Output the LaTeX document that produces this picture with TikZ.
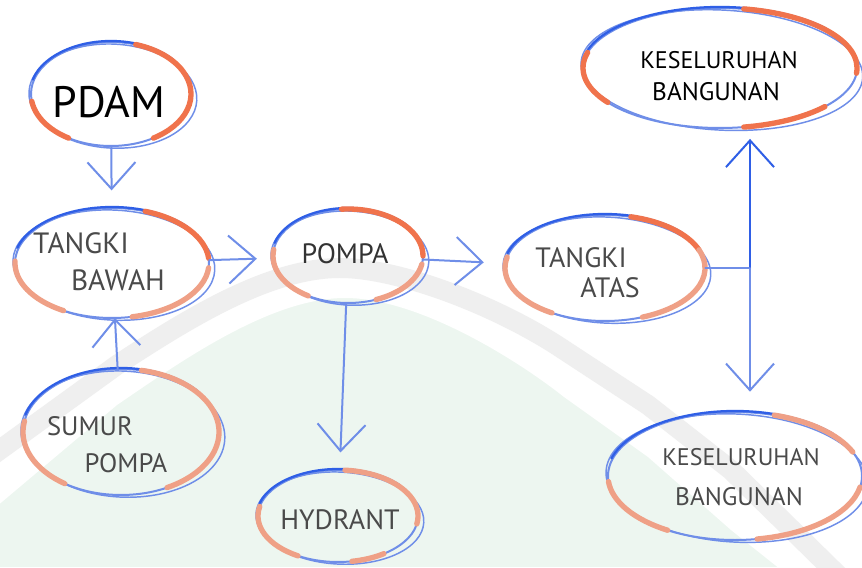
\documentclass[tikz,border=0pt]{standalone}
\usepackage{fontspec}
\usepackage{tikz}
\usetikzlibrary{arrows.meta,shapes.geometric}
\newfontfamily\handfont{PT Sans}
\definecolor{inkdark}{HTML}{2F5FE6}
\definecolor{inklight}{HTML}{6F8EE8}
\definecolor{hldark}{HTML}{F0734C}
\definecolor{hllight}{HTML}{EFA086}
\definecolor{textgrey}{HTML}{4A4A4A}
\definecolor{washgreen}{HTML}{EDF6F0}
\definecolor{washgrey}{HTML}{EFEFEF}

% a sketched ring round node #1 with radii #2 x #3 (in px)
\newcommand\ring[3]{%
  \draw[inklight, line width=1.5pt] (#1) ellipse[x radius=#2, y radius=#3];
  \draw[inklight, line width=1.1pt, rotate around={-3:(#1)}]
    ([shift={(2,-2)}]#1) ellipse[x radius={#2+4}, y radius=#3];
  \draw[inkdark, line width=1.7pt] ([shift={(0,1)}]#1) ++(165:{#2+1} and {#3})
    arc[start angle=165, end angle=40, x radius={#2+1}, y radius=#3];
}
% a marker stroke along the ring, from angle #5 to #6
\newcommand\hlarc[6][hldark]{%
  \draw[#1, line width=4pt] ([shift={(#5:#3 and #4)}]#2)
    arc[start angle=#5, end angle=#6, x radius=#3, y radius=#4];
}

\begin{document}
\begin{tikzpicture}[x=0.75pt, y=0.75pt, line cap=round,
  blob/.style 2 args={ellipse, minimum width=#1*1.5pt, minimum height=#2*1.5pt,
    inner sep=0pt},
  word/.style={font=\handfont\fontsize{#1}{#1}\selectfont, text=textgrey,
    inner sep=0pt},
  word/.default=21,
  flow/.style={inklight, line width=1.5pt,
    -{Straight Barb[length=20pt, width=36pt]}}]
  \useasboundingbox (0,0) rectangle (862,567);

  % faint wash in the background: green below the arch, white above it
  \begin{scope}
    \clip (0,0) rectangle (862,567);
    \fill[washgreen] (0,0) rectangle (862,567);
    \fill[white] (-10,577) -- (-10,55) -- (117,162) .. controls (180,205) and (270,269)
      .. (345,269) .. controls (420,269) and (520,205) .. (564,170)
      -- (648,110) -- (731,37) -- (790,-10) -- (880,-10) -- (880,577) -- cycle;
    \draw[washgrey, line width=15pt] (-10,110) -- (117,202)
      .. controls (190,250) and (270,299) .. (340,299)
      .. controls (400,299) and (500,260) .. (564,217)
      -- (648,162) -- (731,97) -- (840,-10);
  \end{scope}

  % tanks, pump and outlets
  \node[blob={80}{52}] (pdam) at (111,473) {};
  \node[blob={97}{55}] (tbawah) at (112,304) {};
  \node[blob={75}{47}] (pompa) at (348,311) {};
  \node[blob={100}{53}] (tatas) at (605,299) {};
  \node[blob={137}{60}] (kes1) at (720,499) {};
  \node[blob={127}{64}] (kes2) at (735,91) {};
  \node[blob={98}{63}] (sumur) at (121,135) {};
  \node[blob={80}{46}] (hydrant) at (338,51) {};

  \ring{pdam}{80}{52}
  \hlarc{pdam}{80}{52}{72}{-58}
  \hlarc{pdam}{80}{52}{188}{238}

  \ring{tbawah}{97}{55}
  \hlarc{tbawah}{97}{55}{70}{5}
  \hlarc[hllight]{tbawah}{97}{55}{-5}{-78}
  \hlarc[hllight]{tbawah}{97}{55}{178}{240}

  \ring{pompa}{75}{47}
  \hlarc{pompa}{75}{47}{95}{0}
  \hlarc[hllight]{pompa}{75}{47}{-10}{-68}
  \hlarc[hllight]{pompa}{75}{47}{172}{238}

  \ring{tatas}{100}{53}
  \hlarc{tatas}{100}{53}{75}{20}
  \hlarc[hllight]{tatas}{100}{53}{20}{-68}
  \hlarc[hllight]{tatas}{100}{53}{168}{238}

  \ring{kes1}{137}{60}
  \hlarc{kes1}{137}{60}{80}{-5}
  \hlarc{kes1}{137}{60}{-40}{-80}
  \hlarc{kes1}{137}{60}{165}{215}

  \ring{kes2}{127}{64}
  \hlarc[hllight]{kes2}{127}{64}{72}{22}
  \hlarc[hllight]{kes2}{127}{64}{-10}{-80}
  \hlarc[hllight]{kes2}{127}{64}{185}{238}

  \ring{sumur}{98}{63}
  \hlarc[hllight]{sumur}{98}{63}{78}{-62}
  \hlarc[hllight]{sumur}{98}{63}{170}{235}

  \ring{hydrant}{80}{46}
  \hlarc[hllight]{hydrant}{80}{46}{85}{-10}
  \hlarc[hllight]{hydrant}{80}{46}{-55}{-80}
  \hlarc[hllight]{hydrant}{80}{46}{168}{240}

  % labels
  \node[word=33, text=black] (pdam-t) at ([shift={(-2,-8)}]pdam) {PDAM};
  \node[word=22] (tbawah-t1) at ([shift={(-31,20)}]tbawah) {TANGKI};
  \node[word=22] (tbawah-t2) at ([shift={(6,-17)}]tbawah) {BAWAH};
  \node[word, text=black!80] (pompa-t) at ([shift={(-3,2)}]pompa) {POMPA};
  \node[word] (tatas-t1) at ([shift={(-24,10)}]tatas) {TANGKI};
  \node[word] (tatas-t2) at ([shift={(5,-20)}]tatas) {ATAS};
  \node[word=18, text=black] (kes1-t1) at ([shift={(-1,8)}]kes1) {KESELURUHAN};
  \node[word=19, text=black] (kes1-t2) at ([shift={(-4,-24)}]kes1) {BANGUNAN};
  \node[word=18] (kes2-t1) at ([shift={(6,19)}]kes2) {KESELURUHAN};
  \node[word=19] (kes2-t2) at ([shift={(4,-21)}]kes2) {BANGUNAN};
  \node[word=20] (sumur-t1) at ([shift={(-31,6)}]sumur) {SUMUR};
  \node[word=20] (sumur-t2) at ([shift={(5,-31)}]sumur) {POMPA};
  \node[word] (hydrant-t) at ([shift={(2,-4)}]hydrant) {HYDRANT};

  % water flow
  \coordinate (split) at (750,299);
  \draw[flow, shorten >=13pt] (pdam) -- (tbawah);
  \draw[flow] (sumur) -- (tbawah);
  \draw[flow, shorten >=12pt] (tbawah) -- (pompa);
  \draw[flow, shorten >=16pt] (pompa) -- (tatas);
  \draw[flow, shorten >=13pt] (pompa) -- (hydrant);
  \draw[inklight, line width=1.5pt] (tatas.east) -- (split);
  \draw[flow, inkdark, shorten >=8pt] (split) -- (split |- kes1.south);
  \draw[flow, shorten >=15pt] (split) -- (split |- kes2.north);
\end{tikzpicture}
\end{document}
